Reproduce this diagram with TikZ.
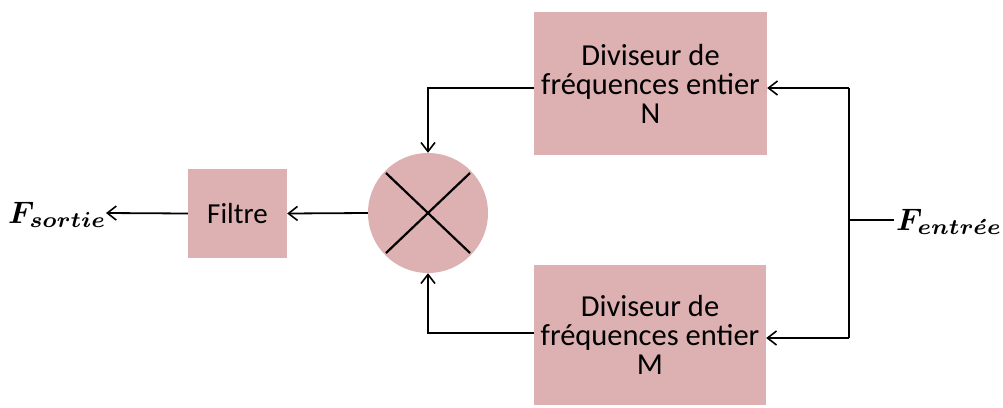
\documentclass[tikz,border=0pt]{standalone}
\usepackage{amsmath}
\usepackage{fontspec}
\setmainfont{Carlito}
\usetikzlibrary{arrows.meta}
\definecolor{boxpink}{RGB}{221,176,178}
\tikzset{
  blk/.style={fill=boxpink, draw=none, inner sep=0pt, align=center, font=\fontsize{30.5}{29}\selectfont},
  conn/.style={line width=1.8pt, draw=black, -{Straight Barb[length=9pt,width=14pt,line width=1.6pt]}},
  plain/.style={line width=1.8pt, draw=black},
  lbl/.style={inner sep=0pt}
}
\begin{document}
\begin{tikzpicture}[x=1pt,y=-1pt]
\useasboundingbox (0,0) rectangle (1003,407);
\node[blk, minimum width=233pt, minimum height=143pt] (divN) at (650.5,83.5) {Diviseur de\\fréquences entier\\N};
\node[blk, minimum width=232pt, minimum height=140pt] (divM) at (650,335) {Diviseur de\\fréquences entier\\M};
\node[blk, circle, minimum size=120pt] (mix) at (428,213) {};
\draw[line width=2.2pt] (mix.center) ++(-42,-40) -- ++(84,80);
\draw[line width=2.2pt] (mix.center) ++(-42,40) -- ++(84,-80);
\node[blk, minimum width=99pt, minimum height=89pt, font=\fontsize{29}{29}\selectfont] (filt) at (237.5,213.5) {Filtre};
\node[lbl, anchor=west] (sortie) at (8,215) {\scalebox{3.1}{$\boldsymbol{F_{sortie}}$}};
\node[lbl, anchor=west] (entree) at (896,222) {\scalebox{3.1}{$\boldsymbol{F_{entr\acute{e}e}}$}};
\coordinate (junc) at (849,220);
\coordinate (topR) at (849,88);
\coordinate (botR) at (849,338);
\coordinate (sortieEnd) at (106,213);
\draw[plain] (entree.west) ++(-2,-2) -- (junc);
\draw[plain] (topR) -- (botR);
\draw[conn] (topR) -- (divN.east |- topR);
\draw[conn] (botR) -- (divM.east |- botR);
\draw[conn] (divN.west |- 0,88) -| (mix.north);
\draw[conn] (divM.west |- 0,333) -| (mix.south);
\draw[conn] (mix.west) -- (filt.east);
\draw[conn] (filt.west) -- (sortieEnd);
\end{tikzpicture}
\end{document}
